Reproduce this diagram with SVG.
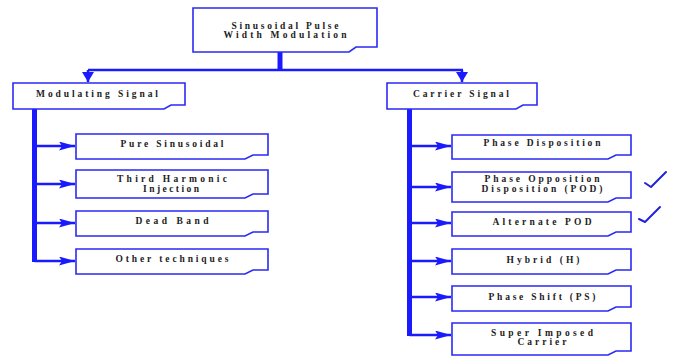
<svg xmlns="http://www.w3.org/2000/svg" width="673" height="356" viewBox="0 0 673 356">
<defs>
<style>
.box{fill:#fff;stroke:#2a2af5;stroke-width:1.6}
.t{font-family:"Liberation Serif","Times New Roman",serif;font-weight:bold;font-size:9.5px;fill:#222;text-anchor:middle}
.ln{stroke:#1a1aff;fill:none}
.ck{stroke:#2222dd;stroke-width:2;fill:none;stroke-linecap:round;stroke-linejoin:round}
</style>
<marker id="ah" markerWidth="16" markerHeight="9" refX="16" refY="4.5" orient="auto" markerUnits="userSpaceOnUse">
<path d="M0,0 L16,4.5 L0,9 L3,4.5 Z" fill="#1a1aff"/>
</marker>
<marker id="ad" markerWidth="12" markerHeight="10" refX="6" refY="10" orient="0" markerUnits="userSpaceOnUse">
<path d="M0,0 L12,0 L6,10 Z" fill="#1a1aff"/>
</marker>
</defs>
<rect width="673" height="356" fill="#fff"/>
<g id="connectors">
<path class="ln" d="M280,52 V70" stroke-width="5"/>
<path class="ln" d="M88,70 H463" stroke-width="2.5"/>
<path class="ln" d="M88,70 V82" stroke-width="2.5" marker-end="url(#ad)"/>
<path class="ln" d="M462,70 V82" stroke-width="2.5" marker-end="url(#ad)"/>
<path class="ln" d="M34.5,109 V262" stroke-width="5"/>
<path class="ln" d="M34.5,146 H75" stroke-width="2.5" marker-end="url(#ah)"/>
<path class="ln" d="M34.5,184 H75" stroke-width="2.5" marker-end="url(#ah)"/>
<path class="ln" d="M34.5,223 H75" stroke-width="2.5" marker-end="url(#ah)"/>
<path class="ln" d="M34.5,261 H75" stroke-width="2.5" marker-end="url(#ah)"/>
<path class="ln" d="M409.5,109 V336" stroke-width="5"/>
<path class="ln" d="M409.5,146 H451" stroke-width="2.5" marker-end="url(#ah)"/>
<path class="ln" d="M409.5,187 H451" stroke-width="2.5" marker-end="url(#ah)"/>
<path class="ln" d="M409.5,223 H451" stroke-width="2.5" marker-end="url(#ah)"/>
<path class="ln" d="M409.5,261 H451" stroke-width="2.5" marker-end="url(#ah)"/>
<path class="ln" d="M409.5,297 H451" stroke-width="2.5" marker-end="url(#ah)"/>
<path class="ln" d="M409.5,335 H451" stroke-width="2.5" marker-end="url(#ah)"/>
</g>
<g id="n-root">
<path class="box" d="M193,8 H377 V47 L356,47 L349,52 H193 Z"/>
<text class="t" x="285" y="29" textLength="107" lengthAdjust="spacing">Sinusoidal Pulse</text>
<text class="t" x="285" y="38" textLength="123" lengthAdjust="spacing">Width Modulation</text>
</g>
<g id="n-mod">
<path class="box" d="M13,83 H185 V105 L171,105 L164,109 H13 Z"/>
<text class="t" x="97" y="97" textLength="122" lengthAdjust="spacing">Modulating Signal</text>
</g>
<g id="n-car">
<path class="box" d="M387,83 H537 V105 L523,105 L516,109 H387 Z"/>
<text class="t" x="461" y="97" textLength="96" lengthAdjust="spacing">Carrier Signal</text>
</g>
<g id="n-pure">
<path class="box" d="M76,134 H268 V155 L253,155 L245,159 H76 Z"/>
<text class="t" x="172" y="147" textLength="103" lengthAdjust="spacing">Pure Sinusoidal</text>
</g>
<g id="n-third">
<path class="box" d="M76,170 H268 V194 L253,194 L245,198 H76 Z"/>
<text class="t" x="172" y="182" textLength="110" lengthAdjust="spacing">Third Harmonic</text>
<text class="t" x="171" y="191.5" textLength="56" lengthAdjust="spacing">Injection</text>
</g>
<g id="n-dead">
<path class="box" d="M76,211 H268 V232 L253,232 L245,236 H76 Z"/>
<text class="t" x="172" y="224" textLength="73" lengthAdjust="spacing">Dead Band</text>
</g>
<g id="n-other">
<path class="box" d="M76,249 H268 V270 L253,270 L245,274 H76 Z"/>
<text class="t" x="172" y="262" textLength="113" lengthAdjust="spacing">Other techniques</text>
</g>
<g id="n-pd">
<path class="box" d="M452,135 H631 V155 L616,155 L608,159 H452 Z"/>
<text class="t" x="542" y="146" textLength="117" lengthAdjust="spacing">Phase Disposition</text>
</g>
<g id="n-pod">
<path class="box" d="M452,172 H631 V198 L616,198 L608,202 H452 Z"/>
<text class="t" x="542" y="182" textLength="115" lengthAdjust="spacing">Phase Opposition</text>
<text class="t" x="542" y="191.5" textLength="121" lengthAdjust="spacing">Disposition (POD)</text>
</g>
<g id="n-apod">
<path class="box" d="M452,212 H631 V232 L616,232 L608,236 H452 Z"/>
<text class="t" x="542" y="225" textLength="99" lengthAdjust="spacing">Alternate POD</text>
</g>
<g id="n-hyb">
<path class="box" d="M452,249 H631 V270 L616,270 L608,274 H452 Z"/>
<text class="t" x="543" y="263" textLength="73" lengthAdjust="spacing">Hybrid (H)</text>
</g>
<g id="n-ps">
<path class="box" d="M452,286 H631 V307 L616,307 L608,311 H452 Z"/>
<text class="t" x="542" y="300" textLength="107" lengthAdjust="spacing">Phase Shift (PS)</text>
</g>
<g id="n-sic">
<path class="box" d="M452,323 H631 V351 L616,351 L608,355 H452 Z"/>
<text class="t" x="542" y="335.5" textLength="102" lengthAdjust="spacing">Super Imposed</text>
<text class="t" x="542" y="345" textLength="49" lengthAdjust="spacing">Carrier</text>
</g>
<g id="checks">
<path class="ck" d="M645,183 L651,187 L666,172"/>
<path class="ck" d="M639,219 L645,222 L660,207"/>
</g>
</svg>
